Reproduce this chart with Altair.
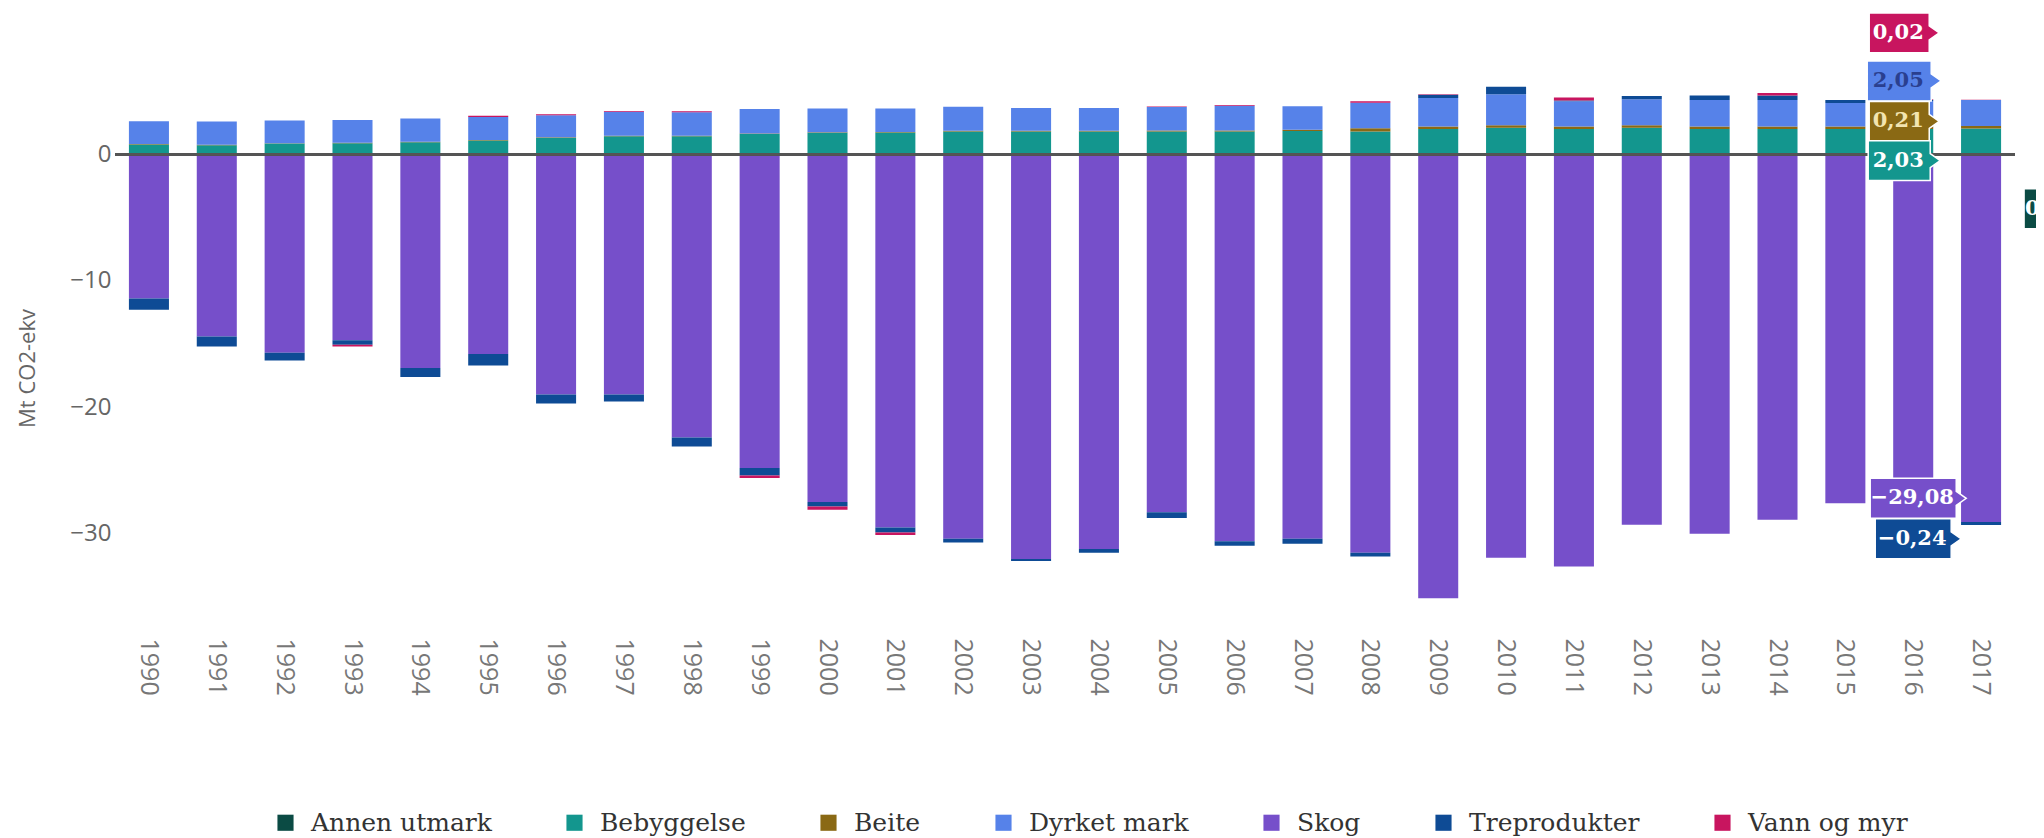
import altair as alt
import pandas as pd

years = [1990, 1991, 1992, 1993, 1994, 1995, 1996, 1997, 1998, 1999,
         2000, 2001, 2002, 2003, 2004, 2005, 2006, 2007, 2008, 2009,
         2010, 2011, 2012, 2013, 2014, 2015, 2016, 2017]

series_names = ["Annen utmark", "Bebyggelse", "Beite", "Dyrket mark",
                "Skog", "Treprodukter", "Vann og myr"]
series_colors = ["#0b4b44", "#13968e", "#8a6914", "#5682e9",
                 "#764fca", "#0e4b95", "#c8155f"]

annen_utmark = [0.0, 0.0, 0.0, 0.0, 0.0, 0.0, 0.0, 0.0, 0.0, 0.0,
                0.0, 0.0, 0.0, 0.0, 0.0, 0.0, 0.0, 0.0, 0.0, 0.0,
                0.0, 0.0, 0.0, 0.0, 0.0, 0.0, 0.0, 0.0]
bebyggelse = [0.78, 0.72, 0.85, 0.88, 0.95, 1.1, 1.3, 1.43, 1.43, 1.6,
              1.7, 1.72, 1.8, 1.8, 1.8, 1.8, 1.8, 1.85, 1.8, 2.0,
              2.1, 2.0, 2.1, 2.0, 2.0, 2.0, 2.0, 2.03]
beite = [0.03, 0.03, 0.03, 0.04, 0.04, 0.04, 0.04, 0.04, 0.04, 0.05,
         0.05, 0.05, 0.06, 0.06, 0.07, 0.08, 0.09, 0.1, 0.25, 0.2,
         0.2, 0.2, 0.2, 0.2, 0.2, 0.2, 0.21, 0.21]
dyrket_mark = [1.8, 1.85, 1.8, 1.8, 1.85, 1.8, 1.75, 1.9, 1.85, 1.93,
               1.88, 1.86, 1.9, 1.8, 1.8, 1.85, 1.95, 1.85, 2.02, 2.25,
               2.45, 2.0, 2.05, 2.1, 2.1, 1.85, 2.0, 2.05]
skog = [-11.4, -14.4, -15.7, -14.7, -16.9, -15.8, -19.0, -19.0, -22.4, -24.8,
        -27.5, -29.5, -30.4, -32.0, -31.2, -28.3, -30.6, -30.4, -31.5, -35.1,
        -31.9, -32.6, -29.3, -30.0, -28.9, -27.6, -28.0, -29.08]
treprodukter = [-0.9, -0.8, -0.6, -0.35, -0.7, -0.9, -0.7, -0.55, -0.7, -0.6,
                -0.35, -0.4, -0.3, -0.15, -0.3, -0.45, -0.35, -0.4, -0.3, 0.25,
                0.6, 0.05, 0.25, 0.35, 0.35, 0.25, 0.1, -0.24]
vann_og_myr = [0.0, 0.0, 0.0, -0.15, 0.0, 0.1, 0.08, 0.06, 0.08, -0.2,
               -0.25, -0.2, 0.0, 0.0, 0.0, 0.05, 0.05, 0.0, 0.12, 0.05,
               0.0, 0.25, 0.0, 0.0, 0.2, 0.0, 0.05, 0.02]

series_values = [annen_utmark, bebyggelse, beite, dyrket_mark,
                 skog, treprodukter, vann_og_myr]

# hover tooltip shown in the reference (values for 2017)
tip_series = ["Vann og myr", "Dyrket mark", "Beite", "Bebyggelse",
              "Skog", "Treprodukter"]
tip_text = ["0,02", "2,05", "0,21", "2,03", "\u221229,08", "\u22120,24"]
tip_year = [2016, 2016, 2016, 2016, 2016, 2016]
tip_y = [9.6, 5.8, 2.6, -0.5, -27.2, -30.4]

side_series = ["Annen utmark"]
side_text = ["0"]
side_year = [2017]
side_y = [-4.3]

rows = []
for idx, (name, vals) in enumerate(zip(series_names, series_values)):
    for yr, v in zip(years, vals):
        rows.append({"year": yr, "series": name, "value": v, "idx": idx})
df = pd.DataFrame(rows)

tips = pd.DataFrame({"tip_series": tip_series, "tip_text": tip_text,
                     "year": tip_year, "tip_y": tip_y})
side = pd.DataFrame({"tip_series": side_series, "tip_text": side_text,
                     "year": side_year, "tip_y": side_y})


def box_path(w, h=40, tip=True):
    u = 45.0
    hw, hh = w / 2 / u, h / 2 / u
    if tip:
        t, a = 10 / u, 7 / u
        return (f"M{-hw:.3f},{-hh:.3f}H{hw:.3f}V{-a:.3f}L{hw + t:.3f},0"
                f"L{hw:.3f},{a:.3f}V{hh:.3f}H{-hw:.3f}Z")
    return f"M{-hw:.3f},{-hh:.3f}H{hw:.3f}V{hh:.3f}H{-hw:.3f}Z"


tip_widths = [60, 64, 60, 62, 86, 76]
tip_paths = [box_path(w) for w in tip_widths]

W, H = 1900, 516
x_enc = alt.X("year:O",
              scale=alt.Scale(paddingInner=0.41, paddingOuter=0.205),
              axis=alt.Axis(title=None, labelAngle=90, labelFont="Open Sans",
                            labelFontSize=25, labelColor="#777777",
                            labelPadding=36, ticks=False, domain=False,
                            grid=False))
y_scale = alt.Scale(domain=[-35.4, 5.4], nice=False, zero=False)

bars = alt.Chart(df).mark_bar().encode(
    x=x_enc,
    y=alt.Y("value:Q", stack="zero", scale=y_scale,
            axis=alt.Axis(values=[0, -10, -20, -30], title="Mt CO2-ekv",
                          grid=False, domain=False, ticks=False,
                          labelPadding=4, labelFont="Open Sans",
                          labelFontSize=24, labelColor="#666666",
                          titleFont="Open Sans", titleFontSize=22,
                          titleFontWeight="normal", titleColor="#666666",
                          titlePadding=30, titleY=282)),
    color=alt.Color("series:N",
                    scale=alt.Scale(domain=series_names, range=series_colors),
                    legend=alt.Legend(title=None, orient="none", legendX=158,
                                      legendY=724, direction="horizontal",
                                      symbolType="square", symbolSize=260,
                                      symbolOpacity=1, symbolStrokeWidth=0,
                                      labelFont="DejaVu Serif",
                                      labelFontSize=25, labelColor="#333333",
                                      labelLimit=0,
                                      columnPadding=70, labelOffset=13,
                                      padding=0)),
    order=alt.Order("idx:Q"),
)

zero = alt.Chart(df).mark_rule(color="#555555", strokeWidth=2).encode(
    y=alt.datum(0))

tip_fill = alt.Fill("tip_series:N",
                    scale=alt.Scale(domain=tip_series + side_series,
                                    range=[series_colors[series_names.index(s)]
                                           for s in tip_series + side_series]),
                    legend=None)
tip_shape = alt.Shape("tip_series:N",
                      scale=alt.Scale(domain=tip_series + side_series,
                                      range=tip_paths + [box_path(44, tip=False)]),
                      legend=None)

text_color = alt.value("white", condition=[
    {"test": "datum.tip_series === 'Dyrket mark'", "value": "#2a3f8f"},
    {"test": "datum.tip_series === 'Beite'", "value": "#f3e4b0"},
])


def tip_layers(data, off, align="center", text_off=None):
    base = alt.Chart(data)
    box = base.mark_point(filled=True, opacity=1, size=8100, stroke="white",
                          strokeWidth=1.5, xOffset=off).encode(
        x="year:O", y=alt.Y("tip_y:Q", scale=y_scale), fill=tip_fill,
        shape=tip_shape)
    txt = base.mark_text(font="DejaVu Serif", fontSize=21, fontWeight="bold",
                         align=align,
                         xOffset=off - 1 if text_off is None else text_off).encode(
        x="year:O", y=alt.Y("tip_y:Q", scale=y_scale), text="tip_text:N",
        color=text_color)
    return box, txt


upper_box, upper_txt = tip_layers(tips[tips.tip_y > -10], -14)
lower_box, lower_txt = tip_layers(tips[tips.tip_y <= -10], 0)
side_box, side_txt = tip_layers(side, 65, align="left", text_off=44)

chart = alt.layer(bars, zero, upper_box, lower_box, side_box,
                  upper_txt, lower_txt, side_txt).properties(
    width=W, height=H,
    background="white",
    autosize=alt.AutoSizeParams(type="none"),
    padding={"left": 107, "top": 78, "right": 21, "bottom": 236},
).resolve_scale(fill="shared", shape="shared").configure_view(
    stroke="transparent", strokeWidth=0)

chart.save("out.html", embed_options={"renderer": "svg", "actions": False})
